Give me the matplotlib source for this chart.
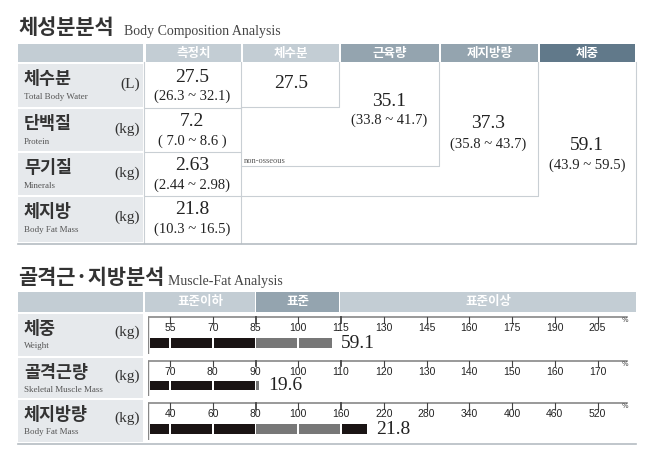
import matplotlib
matplotlib.use("Agg")
import matplotlib.pyplot as plt
from matplotlib.patches import Rectangle
import numpy as np

KR = ['Noto Sans CJK KR', 'DejaVu Sans']
SER = ['Liberation Serif', 'DejaVu Serif']

# ---- data ----
comp_rows_kr = ["체수분", "단백질", "무기질", "체지방"]
comp_rows_en = ["Total Body Water", "Protein", "Minerals", "Body Fat Mass"]
comp_units = ["(L)", "(kg)", "(kg)", "(kg)"]
comp_values = ["27.5", "7.2", "2.63", "21.8"]
comp_ranges = ["(26.3 ~ 32.1)", "( 7.0 ~ 8.6 )", "(2.44 ~ 2.98)", "(10.3 ~ 16.5)"]
comp_headers = ["측정치", "체수분", "근육량", "제지방량", "체중"]
water_val = "27.5"
muscle_val, muscle_rng = "35.1", "(33.8 ~ 41.7)"
ffm_val, ffm_rng = "37.3", "(35.8 ~ 43.7)"
wt_val, wt_rng = "59.1", "(43.9 ~ 59.5)"

mf_rows_kr = ["체중", "골격근량", "체지방량"]
mf_rows_en = ["Weight", "Skeletal Muscle Mass", "Body Fat Mass"]
mf_ticks = [[55, 70, 85, 100, 115, 130, 145, 160, 175, 190, 205],
            [70, 80, 90, 100, 110, 120, 130, 140, 150, 160, 170],
            [40, 60, 80, 100, 160, 220, 280, 340, 400, 460, 520]]
mf_pct = [112, 91, 197]
mf_labels = ["59.1", "19.6", "21.8"]

W, H = 650, 451
fig = plt.figure(figsize=(6.5, 4.51), dpi=100)
ax = fig.add_axes([0, 0, 1, 1])
ax.set_xlim(0, W); ax.set_ylim(H, 0); ax.axis('off')

def rect(x0, y0, x1, y1, fc, ec='none', lw=0.8, z=1):
    ax.add_patch(Rectangle((x0, y0), x1 - x0, y1 - y0, fc=fc, ec=ec, lw=lw, zorder=z))

LBL = '#e6e9ec'; HL = '#c3cdd4'; HM = '#94a4af'; HD = '#61798a'; LINE = '#c9cfd4'

# ---- top section ----
ax.text(18, 28, "체성분분석", family=KR, fontsize=15, fontweight='bold', color='#333', va='center')
ax.text(124, 31, "Body Composition Analysis", family=SER, fontsize=10, color='#444', va='center')
cols = [145, 242, 340, 440, 539, 636]
rows = [63, 108, 152, 196, 243]
rect(18, 44, 143, 62, HL)
hcol = [HL, HL, HM, HM, HD]
for i, h in enumerate(comp_headers):
    rect(cols[i] + 1, 44, cols[i + 1] - 1, 62, hcol[i])
    ax.text((cols[i] + cols[i + 1]) / 2, 53, h, family=KR, fontsize=9, fontweight='bold', color='white', ha='center', va='center')
for r in range(4):
    y0, y1 = rows[r] + 1, rows[r + 1] - 1
    rect(18, y0, 143, y1, LBL)
    ax.text(24, y0 + 15, comp_rows_kr[r], family=KR, fontsize=12.5, fontweight='bold', color='#333', va='center')
    ax.text(24, y0 + 33, comp_rows_en[r], family=SER, fontsize=6.5, color='#555', va='center')
    ax.text(140, y0 + 20, comp_units[r], family=SER, fontsize=11, color='#333', ha='right', va='center')
    ax.text(192, y0 + 13, comp_values[r], family=SER, fontsize=14, color='#222', ha='center', va='center')
    ax.text(192, y0 + 32, comp_ranges[r], family=SER, fontsize=10.5, color='#222', ha='center', va='center')
ax.plot([144, 144], [62, 243], color=LINE, lw=0.8)
ax.plot([241, 241], [62, 243], color=LINE, lw=0.8)
for y in rows[1:4]:
    ax.plot([145, 241], [y, y], color=LINE, lw=0.8)
ax.plot([241, 339, 339], [107, 107, 62], color=LINE, lw=0.8)
ax.plot([241, 439, 439], [166, 166, 62], color=LINE, lw=0.8)
ax.plot([241, 538, 538], [196, 196, 62], color=LINE, lw=0.8)
ax.plot([636, 636], [62, 243], color=LINE, lw=0.8)
ax.plot([18, 636], [244, 244], color='#b5bcc2', lw=1.2)
ax.text(244, 161, "non-osseous", family=SER, fontsize=6, color='#555', va='center')
ax.text(291, 84, water_val, family=SER, fontsize=14, color='#222', ha='center', va='center')
ax.text(389, 101, muscle_val, family=SER, fontsize=14, color='#222', ha='center', va='center')
ax.text(389, 120, muscle_rng, family=SER, fontsize=10.5, color='#222', ha='center', va='center')
ax.text(488, 124, ffm_val, family=SER, fontsize=14, color='#222', ha='center', va='center')
ax.text(488, 144, ffm_rng, family=SER, fontsize=10.5, color='#222', ha='center', va='center')
ax.text(587, 146, wt_val, family=SER, fontsize=14, color='#222', ha='center', va='center')
ax.text(587, 165, wt_rng, family=SER, fontsize=10.5, color='#222', ha='center', va='center')

# ---- bottom section ----
ax.text(18, 278, "골격근·지방분석", family=KR, fontsize=15, fontweight='bold', color='#333', va='center')
ax.text(168, 281, "Muscle-Fat Analysis", family=SER, fontsize=10, color='#444', va='center')
rect(18, 292, 143, 312, HL)
for (x0, x1, c, t) in [(145, 255, HL, "표준이하"), (256, 339, HM, "표준"), (340, 636, HL, "표준이상")]:
    rect(x0, 292, x1, 312, c)
    ax.text((x0 + x1) / 2, 302, t, family=KR, fontsize=9, fontweight='bold', color='white', ha='center', va='center')
mrows = [(314, 356), (358, 398), (400, 442)]
for r, (y0, y1) in enumerate(mrows):
    rect(18, y0, 143, y1, LBL)
    ax.text(24, y0 + 15, mf_rows_kr[r], family=KR, fontsize=12.5, fontweight='bold', color='#333', va='center')
    ax.text(24, y0 + 32, mf_rows_en[r], family=SER, fontsize=6.5, color='#555', va='center')
    ax.text(140, y0 + 18, "(kg)", family=SER, fontsize=11, color='#333', ha='right', va='center')
ax.plot([18, 636], [444, 444], color='#b5bcc2', lw=1.2)

for r, (y0, y1) in enumerate(mrows):
    bax = fig.add_axes([148 / W, 1 - (y1 - 2) / H, (636 - 148) / W, (y1 - y0 - 4) / H])
    bax.set_xlim(-0.516, 10.9); bax.set_ylim(0, 1); bax.axis('off')
    ticks = mf_ticks[r]
    bax.plot([-0.516, 10.7], [0.97, 0.97], color='#888', lw=1.2)
    bax.plot([-0.516, -0.516], [0.0, 0.97], color='#888', lw=1)
    for i, t in enumerate(ticks):
        bax.plot([i, i], [0.82, 0.97], color='#444', lw=1.3 if i in (2, 4) else 0.8)
        bax.text(i, 0.68, str(t), fontsize=7.5, color='#222', ha='center', va='center', family=['Liberation Sans'])
    bax.text(10.65, 0.9, "%", fontsize=5, color='#444', ha='center', va='center')
    end = float(np.interp(mf_pct[r], ticks, np.arange(len(ticks))))
    edges = [-0.5] + list(range(0, int(np.ceil(end)))) + [end]
    for a, b in zip(edges[:-1], edges[1:]):
        c = '#777777' if 2 <= a < 4 else '#1a1414'
        bax.barh(0.3, (b - a) - 0.04, left=a + 0.02, height=0.26, color=c, edgecolor='none')
    bax.text(end + 0.2, 0.28, mf_labels[r], family=SER, fontsize=14, color='#222', va='center')

fig.savefig("out.png", dpi=100, facecolor='white')
